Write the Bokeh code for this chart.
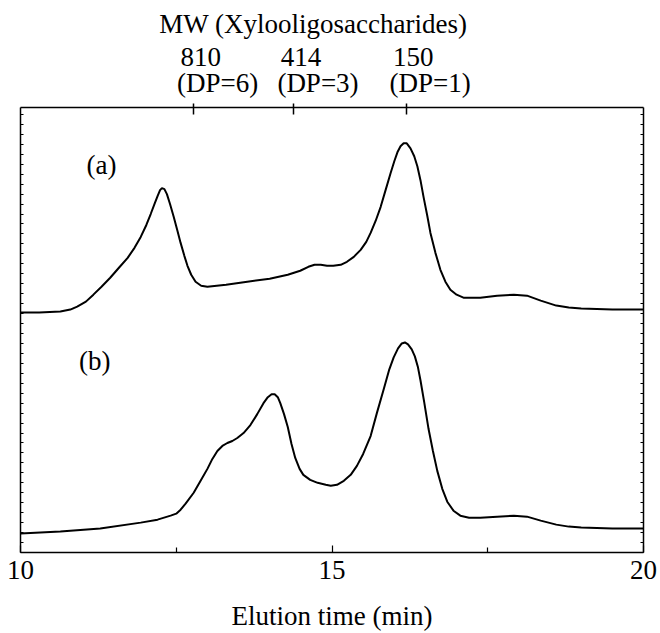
from bokeh.plotting import figure
from bokeh.models import LinearAxis, FixedTicker, Range1d
from bokeh.layouts import column
from bokeh.core.properties import value
from bokeh.embed import file_html
from bokeh.resources import INLINE

# ---------------- data ----------------
# elution time (min) and detector response (arbitrary units), trace (a)
time_a = [10.0, 10.3, 10.64, 10.8, 10.91, 11.05, 11.17, 11.3, 11.44, 11.58, 11.72, 11.83,
          11.93, 12.02, 12.09, 12.15, 12.2, 12.24, 12.27, 12.31, 12.35, 12.4, 12.46, 12.52,
          12.57, 12.63, 12.68, 12.74, 12.81, 12.9, 13.0, 13.3, 13.64, 14.0, 14.29, 14.49,
          14.62, 14.72, 14.82, 14.92, 15.02, 15.14, 15.24, 15.35, 15.46, 15.55, 15.62, 15.7,
          15.78, 15.86, 15.94, 16.0, 16.05, 16.1, 16.15, 16.2, 16.26, 16.32, 16.37, 16.42,
          16.47, 16.53, 16.58, 16.66, 16.74, 16.82, 16.9, 17.0, 17.11, 17.38, 17.65, 17.92,
          18.13, 18.35, 18.6, 18.8, 19.0, 19.5, 20.0]
signal_a = [241, 241, 242, 244, 247, 252, 259, 267, 276, 286, 296, 306,
            317, 329, 340, 350, 358, 364, 366, 365, 360, 350, 337, 323,
            311, 298, 288, 279, 272, 268, 267, 269, 272, 275, 279, 283,
            287, 289, 289, 288, 288, 289, 292, 297, 304, 312, 321, 333,
            347, 364, 381, 393, 402, 408, 411, 411, 406, 398, 388, 374,
            357, 338, 321, 301, 284, 272, 264, 259, 256, 256, 258, 259,
            258, 253, 248, 246, 245, 244, 244]

# trace (b)
time_b = [10.0, 10.64, 11.28, 11.93, 12.2, 12.41, 12.5, 12.57, 12.65, 12.78, 12.9, 13.0,
          13.08, 13.16, 13.24, 13.32, 13.4, 13.48, 13.58, 13.69, 13.8, 13.9, 13.97, 14.03,
          14.08, 14.13, 14.17, 14.23, 14.29, 14.35, 14.41, 14.48, 14.54, 14.65, 14.77, 14.9,
          14.98, 15.08, 15.19, 15.3, 15.4, 15.5, 15.62, 15.72, 15.83, 15.92, 15.99, 16.06,
          16.12, 16.17, 16.22, 16.28, 16.33, 16.38, 16.42, 16.48, 16.55, 16.62, 16.69, 16.77,
          16.85, 16.95, 17.06, 17.2, 17.38, 17.65, 17.92, 18.13, 18.35, 18.6, 18.8, 19.0,
          19.5, 20.0]
signal_b = [19, 21, 24, 30, 33, 37, 39, 43, 49, 60, 73, 84,
            94, 102, 107, 110, 112, 115, 120, 128, 139, 150, 156, 159,
            159, 156, 150, 139, 126, 109, 95, 84, 78, 73, 70, 68,
            67, 68, 72, 78, 87, 99, 117, 140, 164, 184, 196, 205,
            210, 211, 209, 204, 197, 186, 173, 151, 124, 102, 82, 64,
            51, 42, 37, 35, 35, 36, 37, 36, 32, 28, 26, 25,
            24, 24]

# top axis: molecular weight markers of xylooligosaccharide standards
mw_times = [12.78, 14.39, 16.19]
mw_values = ["810", "414", "150"]
mw_dp = ["(DP=6)", "(DP=3)", "(DP=1)"]

x_major = [10, 15, 20]
x_minor = [12.5, 17.5]

FONT = "Liberation Serif"
FS = "27px"

xr = Range1d(10, 20)

# ---------------- header strip (MW labels) ----------------
top = figure(width=658, height=101, x_range=xr, y_range=Range1d(0, 101),
             output_backend="svg", toolbar_location=None,
             min_border_left=20, min_border_right=15, min_border_top=0, min_border_bottom=0,
             x_axis_location=None, y_axis_location=None)
top.outline_line_color = None
top.xgrid.visible = False
top.ygrid.visible = False

txt = dict(text_font=value(FONT), text_font_size=value(FS), text_color="black",
           text_align="center", text_baseline="alphabetic")
top.text(x=[14.70], y=[78], text=["MW (Xylooligosaccharides)"], **txt)
top.text(x=mw_times, y=[45] * len(mw_times), text=mw_values, x_offset=7, **txt)
top.text(x=mw_times, y=[19] * len(mw_times), text=mw_dp, x_offset=24, **txt)

# ---------------- main chromatogram ----------------
p = figure(width=658, height=532, x_range=xr, y_range=Range1d(0, 447),
           output_backend="svg", toolbar_location=None,
           min_border_left=20, min_border_right=15, min_border_top=6, min_border_bottom=79,
           x_axis_location=None, y_axis_location=None)
p.outline_line_color = None
p.xgrid.visible = False
p.ygrid.visible = False

# bottom axis
xb = LinearAxis(ticker=FixedTicker(ticks=x_major, minor_ticks=x_minor),
                axis_label="Elution time (min)")
xb.major_tick_in = 7
xb.major_tick_out = 0
xb.minor_tick_in = 5
xb.minor_tick_out = 0
xb.axis_line_width = 1.5
xb.major_tick_line_width = 1.2
xb.minor_tick_line_width = 1.2
xb.major_label_text_font = FONT
xb.major_label_text_font_size = FS
xb.major_label_text_color = "black"
xb.major_label_standoff = 8
xb.axis_label_text_font = FONT
xb.axis_label_text_font_size = FS
xb.axis_label_text_font_style = "normal"
xb.axis_label_text_color = "black"
xb.axis_label_standoff = 19
p.add_layout(xb, "below")

# top axis: marker ticks only (labels are in the header strip)
xt = LinearAxis(ticker=FixedTicker(ticks=[], minor_ticks=mw_times))
xt.minor_tick_in = 7
xt.minor_tick_out = 4
xt.minor_tick_line_width = 1.5
xt.axis_line_width = 1.5
p.add_layout(xt, "above")

# left / right axes with small inner ticks only
ytick = FixedTicker(ticks=[], minor_ticks=list(range(0, 448, 10)))
for side in ("left", "right"):
    ya = LinearAxis(ticker=ytick)
    ya.minor_tick_in = 3
    ya.minor_tick_out = 0
    ya.minor_tick_line_width = 1
    ya.axis_line_width = 1.5
    p.add_layout(ya, side)

p.line(time_a, signal_a, line_color="black", line_width=2)
p.line(time_b, signal_b, line_color="black", line_width=2)

p.text(x=[11.30], y=[389], text=["(a)"], **txt)
p.text(x=[11.19], y=[192], text=["(b)"], **txt)

layout = column(top, p, spacing=0)
open("out.html", "w").write(file_html(layout, INLINE))
